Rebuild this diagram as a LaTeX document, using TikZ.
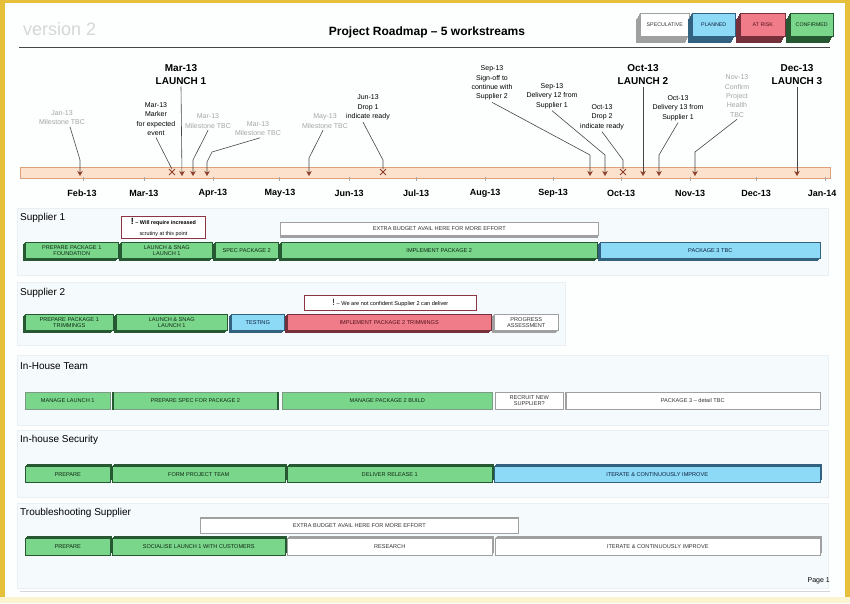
\documentclass[tikz,border=0pt]{standalone}
\usepackage{fontspec}
\setmainfont{Liberation Sans}
\usetikzlibrary{arrows.meta,calc,shapes.misc}
\definecolor{frameY}{RGB}{230,192,58}
\definecolor{frameP}{RGB}{250,244,208}
\definecolor{pagebg}{RGB}{253,254,254}
\definecolor{panel}{RGB}{245,250,252}
\definecolor{panelln}{RGB}{234,239,243}
\definecolor{gface}{RGB}{122,214,138}
\definecolor{gdark}{RGB}{38,88,50}
\definecolor{gtext}{RGB}{15,40,20}
\definecolor{bface}{RGB}{140,218,246}
\definecolor{bdark}{RGB}{50,98,128}
\definecolor{btext}{RGB}{15,30,60}
\definecolor{pface}{RGB}{240,124,138}
\definecolor{pdark}{RGB}{118,48,60}
\definecolor{ptext}{RGB}{80,15,25}
\definecolor{wdark}{RGB}{160,160,160}
\definecolor{wtext}{RGB}{50,50,50}
\definecolor{msgray}{RGB}{165,165,165}
\definecolor{tipbrown}{RGB}{140,60,40}
\definecolor{linegray}{RGB}{70,70,70}
\definecolor{callred}{RGB}{140,52,66}
\definecolor{barfill}{RGB}{252,226,204}
\definecolor{barline}{RGB}{222,160,122}
\definecolor{vgray}{RGB}{214,214,214}
\definecolor{botln}{RGB}{214,210,224}

\newcommand\extx{-2}
\newcommand\exty{2.5}
\newcommand\blkfont{\fontsize{5.6}{6.2}\selectfont}
% name x1 y1 x2 y2 face dark textcol text
\newcommand\blk[9]{%
  \foreach \t in {0.1,0.2,...,1.0}
    \fill[#7] ($(#2,#3)+\t*(\extx,\exty)$) rectangle ($(#4,#5)+\t*(\extx,\exty)$);
  \node[blkst, fill=#6, draw=#7, text=#8, minimum width={#4-#2}, minimum height={#5-#3}, anchor=north west] (#1) at (#2,#3) {#9};}

\tikzset{
  blkst/.style={align=center, inner sep=0pt, line width=0.5pt, font=\blkfont},
  sec/.style={anchor=west, inner sep=0pt, font=\fontsize{10}{12}\selectfont},
  mon/.style={inner sep=0pt, font=\bfseries\fontsize{9}{10}\selectfont},
  msk/.style={align=center, inner sep=2pt, font=\fontsize{7}{9.3}\selectfont, text=black},
  msg/.style={msk, text=msgray},
  launch/.style={align=center, inner sep=2pt, font=\bfseries\fontsize{10}{13}\selectfont},
  conn/.style={draw=linegray, line width=0.6pt},
  arr/.style={conn, -{Stealth[length=5pt,width=5.5pt,color=tipbrown]}},
  xmark/.style={cross out, draw=tipbrown, minimum size=5pt, inner sep=0pt, line width=0.9pt},
  callout/.style={draw=callred, line width=0.8pt, fill=white, inner sep=0pt, align=center, anchor=north west},
  panelst/.style={fill=panel, draw=panelln, line width=0.4pt}
}

\begin{document}
\begin{tikzpicture}[x=1pt,y=-1pt]
\useasboundingbox (0,0) rectangle (850,603);
% frame and page
\fill[frameP] (0,0) rectangle (850,603);
\fill[frameY] (0,0) rectangle (850,597);
\fill[pagebg] (5,3) rectangle (845,597);

% header
\node[anchor=west, inner sep=0pt, text=vgray, font=\fontsize{18}{20}\selectfont] (ver) at (23,29) {version 2};
\node[inner sep=0pt, font=\bfseries\fontsize{12}{14}\selectfont] (title) at (427,32) {Project Roadmap – 5 workstreams};
\draw[linegray, line width=0.8pt] (19,47.5) -- (830,47.5);

% legend
\renewcommand\extx{-4}\renewcommand\exty{7}
\renewcommand\blkfont{\fontsize{5.3}{6}\selectfont}
\blk{lg1}{640}{13}{689}{36}{white}{wdark}{wtext}{SPECULATIVE}
\blk{lg2}{692}{13}{735}{36}{bface}{bdark}{btext}{PLANNED}
\blk{lg3}{740}{13}{785}{36}{pface}{pdark}{ptext}{AT RISK}
\blk{lg4}{790}{13}{833}{36}{gface}{gdark}{gtext}{CONFIRMED}

% timeline bar
\node[fill=barfill, draw=barline, line width=0.6pt, minimum width=810pt, minimum height=11pt, inner sep=0pt, anchor=north west] (tl) at (20,167) {};
\foreach \mx in {83,144,213,279,349,416,485,553,621,690,756,825}
  \draw[msgray, line width=0.5pt] (\mx,177) -- (\mx,181);
\node[mon] (feb) at (82,193) {Feb-13};
\node[mon] (mar) at (144,193) {Mar-13};
\node[mon] (apr) at (213,193) {Apr-13};
\node[mon] (may) at (280,193) {May-13};
\node[mon] (jun) at (349,193) {Jun-13};
\node[mon] (jul) at (416,193) {Jul-13};
\node[mon] (aug) at (485,193) {Aug-13};
\node[mon] (sep) at (553,193) {Sep-13};
\node[mon] (oct) at (621,193) {Oct-13};
\node[mon] (nov) at (690,193) {Nov-13};
\node[mon] (dec) at (756,193) {Dec-13};
\node[mon] (jan) at (822,193) {Jan-14};

% milestone labels
\node[msg] (m1) at (62,117.5) {Jan-13\\Milestone TBC};
\node[msk] (m2) at (156,119) {Mar-13\\Marker\\for expected\\event};
\node[launch] (m3) at (181,74.5) {Mar-13\\LAUNCH 1};
\node[msg] (m4) at (208,121) {Mar-13\\Milestone TBC};
\node[msg] (m5) at (258,128.5) {Mar-13\\Milestone TBC};
\node[msg] (m6) at (325,121) {May-13\\Milestone TBC};
\node[msk] (m7) at (368,107.5) {Jun-13\\Drop 1\\indicate ready};
\node[msk] (m8) at (492,83) {Sep-13\\Sign-off to\\continue with\\Supplier 2};
\node[msk] (m9) at (552,96) {Sep-13\\Delivery 12 from\\Supplier 1};
\node[msk] (m10) at (602,117) {Oct-13\\Drop 2\\indicate ready};
\node[launch] (m11) at (643,74.5) {Oct-13\\LAUNCH 2};
\node[msk] (m12) at (678,108) {Oct-13\\Delivery 13 from\\Supplier 1};
\node[msg] (m13) at (737,96) {Nov-13\\Confirm\\Project\\Health\\TBC};
\node[launch] (m14) at (797,74.5) {Dec-13\\LAUNCH 3};

% marker points
\coordinate (a1) at (80,176);
\node[xmark] (x2) at (172,172) {};
\coordinate (a3) at (182,176);
\coordinate (a4) at (193,176);
\coordinate (a5) at (207,176);
\coordinate (a6) at (309,176);
\node[xmark] (x7) at (383,172) {};
\coordinate (a8) at (590,176);
\coordinate (a9) at (605,176);
\node[xmark] (x10) at (623,172) {};
\coordinate (a11) at (643,176);
\coordinate (a12) at (659,176);
\coordinate (a13) at (695,176);
\coordinate (a14) at (797,176);

% connectors
\draw[arr] ([xshift=8pt]m1.south) -- (80,160) -- (a1);
\draw[conn] (m2.south) -- (x2.north);
\draw[arr] (m3.south) -- (a3);
\draw[arr] (m4.south) -- (193,160) -- (a4);
\draw[arr] ([xshift=2pt]m5.south) -- (212,152) -- (207,162) -- (a5);
\draw[arr] ([xshift=-2pt]m6.south) -- (309,158) -- (a6);
\draw[conn] ([xshift=-5pt]m7.south) -- (383,160) -- (x7.north);
\draw[arr] (m8.south) -- (590,155) -- (a8);
\draw[arr] (m9.south) -- (605,155) -- (a9);
\draw[conn] (m10.south) -- (623,160) -- (x10.north);
\draw[arr] (m11.south) -- (a11);
\draw[arr] (m12.south) -- (659,155) -- (a12);
\draw[arr] (m13.south) -- (695,152) -- (a13);
\draw[arr] (m14.south) -- (a14);

% panels
\draw[panelst] (17,208) rectangle (828,275);
\draw[panelst] (17,282) rectangle (565,345);
\draw[panelst] (17,355) rectangle (828,425);
\draw[panelst] (17,430) rectangle (828,497);
\draw[panelst] (17,503) rectangle (828,588);

\renewcommand\blkfont{\fontsize{5.6}{6.2}\selectfont}
% Supplier 1
\node[sec] (h1) at (20,218) {Supplier 1};
\renewcommand\extx{0}\renewcommand\exty{3}
\blk{s1x}{280}{222}{598}{235}{white}{wdark}{wtext}{EXTRA BUDGET AVAIL HERE FOR MORE EFFORT}
\node[callout, minimum width=84pt, minimum height=22pt] (s1n) at (121,216)
  {\bfseries{\fontsize{9}{8}\selectfont !}\,{\fontsize{5.4}{6}\selectfont – Will require increased}\\[-1pt]{\fontsize{5.4}{6}\selectfont scrutiny at this point}};
\renewcommand\extx{-2}\renewcommand\exty{2.5}
\blk{s1a}{25}{242}{118}{258}{gface}{gdark}{gtext}{PREPARE PACKAGE 1\\FOUNDATION}
\blk{s1b}{121}{242}{212}{258}{gface}{gdark}{gtext}{LAUNCH \& SNAG\\LAUNCH 1}
\blk{s1c}{215}{242}{278}{258}{gface}{gdark}{gtext}{SPEC PACKAGE 2}
\blk{s1d}{281}{242}{597}{258}{gface}{gdark}{gtext}{IMPLEMENT PACKAGE 2}
\blk{s1e}{600}{242}{820}{258}{bface}{bdark}{btext}{PACKAGE 3 TBC}

% Supplier 2
\node[sec] (h2) at (20,293) {Supplier 2};
\node[callout, minimum width=172pt, minimum height=15pt] (s2n) at (304,295)
  {{\fontsize{9}{8}\selectfont !}\,{\fontsize{5.6}{6}\selectfont – We are not confident Supplier 2 can deliver}};
\blk{s2a}{25}{314}{113}{330}{gface}{gdark}{gtext}{PREPARE PACKAGE 1\\TRIMMINGS}
\blk{s2b}{116}{314}{227}{330}{gface}{gdark}{gtext}{LAUNCH \& SNAG\\LAUNCH 1}
\blk{s2c}{231}{314}{284}{330}{bface}{bdark}{btext}{TESTING}
\blk{s2d}{287}{314}{491}{330}{pface}{pdark}{ptext}{IMPLEMENT PACKAGE 2 TRIMMINGS}
\blk{s2e}{494}{314}{558}{330}{white}{wdark}{wtext}{PROGRESS\\ASSESSMENT}

% In-House Team
\node[sec] (h3) at (20,366) {In-House Team};
\renewcommand\extx{0}\renewcommand\exty{0}
\blk{t1}{25}{392}{110}{409}{gface}{gdark!60}{gtext}{MANAGE LAUNCH 1}
\blk{t2}{112}{392}{278}{409}{gface}{gdark!60}{gtext}{PREPARE SPEC FOR PACKAGE 2}
\blk{t3}{282}{392}{492}{409}{gface}{gdark!60}{gtext}{MANAGE PACKAGE 2 BUILD}
\blk{t4}{495}{392}{563}{409}{white}{wdark}{wtext}{RECRUIT NEW\\SUPPLIER?}
\blk{t5}{565}{392}{820}{409}{white}{wdark}{wtext}{PACKAGE 3 -- detail TBC}
\draw[gdark, line width=2pt] ([xshift=1pt]t2.north west) -- ([xshift=1pt]t2.south west);
\draw[gdark, line width=2pt] ([xshift=-1pt]t2.north east) -- ([xshift=-1pt]t2.south east);
\draw[wdark, line width=1.5pt] ([xshift=1pt]t5.north west) -- ([xshift=1pt]t5.south west);

% In-house Security
\node[sec] (h4) at (20,440) {In-house Security};
\renewcommand\extx{2}\renewcommand\exty{-2}
\blk{u1}{25}{466}{110}{482}{gface}{gdark}{gtext}{PREPARE}
\blk{u2}{112}{466}{285}{482}{gface}{gdark}{gtext}{FORM PROJECT TEAM}
\blk{u3}{287}{466}{492}{482}{gface}{gdark}{gtext}{DELIVER RELEASE 1}
\blk{u4}{494}{466}{820}{482}{bface}{bdark}{btext}{ITERATE \& CONTINUOUSLY IMPROVE}

% Troubleshooting Supplier
\node[sec] (h5) at (20,513) {Troubleshooting Supplier};
\renewcommand\extx{1}\renewcommand\exty{-1.5}
\blk{v5}{200}{518}{518}{533}{white}{wdark}{wtext}{EXTRA BUDGET AVAIL HERE FOR MORE EFFORT}
\renewcommand\extx{2}\renewcommand\exty{-2}
\blk{v1}{25}{538}{110}{555}{gface}{gdark}{gtext}{PREPARE}
\blk{v2}{112}{538}{285}{555}{gface}{gdark}{gtext}{SOCIALISE LAUNCH 1 WITH CUSTOMERS}
\blk{v3}{287}{538}{492}{555}{white}{wdark}{wtext}{RESEARCH}
\blk{v4}{495}{538}{820}{555}{white}{wdark}{wtext}{ITERATE \& CONTINUOUSLY IMPROVE}

% footer
\node[anchor=east, inner sep=0pt, font=\fontsize{7}{8}\selectfont] (pg) at (830,581) {Page 1};
\draw[botln, line width=0.8pt] (20,591) -- (830,591);
\end{tikzpicture}
\end{document}
